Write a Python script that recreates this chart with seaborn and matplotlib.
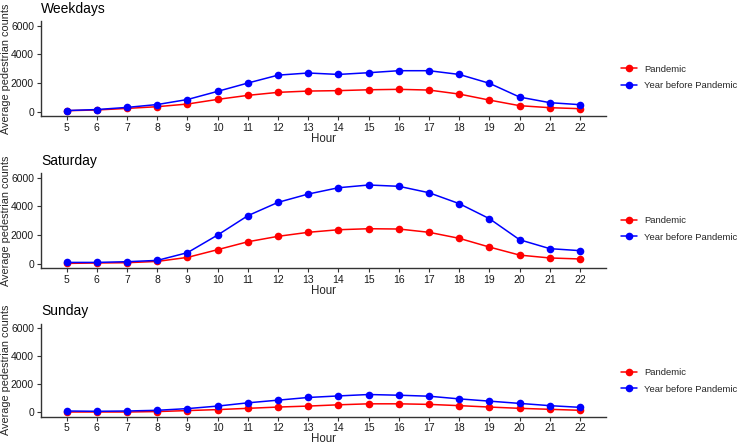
import matplotlib
matplotlib.use("Agg")
import matplotlib.pyplot as plt
import seaborn as sns
import pandas as pd
from matplotlib.lines import Line2D

hours = list(range(5, 23))
panels = ["Weekdays", "Saturday", "Sunday"]
series_names = ["Pandemic", "Year before Pandemic"]

weekdays_pandemic = [70, 120, 230, 350, 535, 860, 1140, 1350, 1440, 1470, 1530, 1560, 1510, 1230, 810, 420, 280, 210]
weekdays_before = [80, 150, 300, 500, 850, 1420, 2000, 2550, 2700, 2600, 2720, 2860, 2860, 2600, 1980, 1020, 630, 490]
saturday_pandemic = [20, 50, 70, 160, 440, 980, 1530, 1910, 2190, 2370, 2440, 2420, 2190, 1770, 1160, 600, 400, 330]
saturday_before = [90, 90, 140, 230, 770, 2000, 3350, 4280, 4860, 5300, 5490, 5400, 4950, 4190, 3140, 1670, 1050, 910]
sunday_pandemic = [20, 20, 20, 50, 120, 190, 280, 370, 440, 530, 600, 600, 560, 470, 370, 280, 210, 140]
sunday_before = [90, 70, 90, 140, 260, 440, 670, 860, 1050, 1160, 1260, 1210, 1140, 950, 790, 630, 470, 350]

y_ticks = [0, 2000, 4000, 6000]
colors = {"Pandemic": "#FF0000", "Year before Pandemic": "#0000FF"}

data = {
    "Weekdays": (weekdays_pandemic, weekdays_before),
    "Saturday": (saturday_pandemic, saturday_before),
    "Sunday": (sunday_pandemic, sunday_before),
}

sns.set_style("white")
plt.rcParams["font.family"] = ["Liberation Sans", "DejaVu Sans"]

W, H = 740, 445
fig = plt.figure(figsize=(7.4, 4.45), dpi=100)

# panel pixel boxes: (top, bottom)
boxes = [(21.4, 116.0), (173.4, 268.0), (323.5, 416.5)]
legend_centers = [77.5, 229.0, 381.0]
left_px, right_px = 41.0, 605.7

for name, (top, bot), lc in zip(panels, boxes, legend_centers):
    ax = fig.add_axes([left_px / W, 1 - bot / H, (right_px - left_px) / W, (bot - top) / H])
    pan, bef = data[name]
    df = pd.DataFrame({
        "Hour": hours * 2,
        "count": pan + bef,
        "group": [series_names[0]] * len(hours) + [series_names[1]] * len(hours),
    })
    sns.lineplot(data=df, x="Hour", y="count", hue="group", palette=colors,
                 hue_order=series_names, marker="o", markersize=5.5,
                 markeredgewidth=0, linewidth=1.1, ax=ax, legend=False)
    ax.set_xlim(4.15, 22.85)
    ax.set_ylim(-300, 6300)
    ax.set_xticks(hours)
    ax.set_xticklabels([str(h) for h in hours])
    ax.set_yticks(y_ticks)
    ax.set_yticklabels([str(v) for v in y_ticks])
    for s in ["top", "right"]:
        ax.spines[s].set_visible(False)
    for s in ["left", "bottom"]:
        ax.spines[s].set_color("#333333")
        ax.spines[s].set_linewidth(1.0)
    ax.tick_params(axis="both", which="both", direction="out", length=3, width=0.8,
                   color="#333333", labelsize=7.5, labelcolor="#1a1a1a", pad=2,
                   bottom=True, left=True)
    ax.set_title(name, loc="left", fontsize=10, pad=6, color="black")
    ax.set_xlabel("Hour", fontsize=8.3, labelpad=0)
    ax.set_ylabel("Average pedestrian counts", fontsize=7.8, labelpad=0)
    ax.grid(False)
    handles = [Line2D([0], [0], color=colors[s], marker="o", markersize=5.5,
                      markeredgewidth=0, linewidth=1.1) for s in series_names]
    ax.legend(handles, series_names, loc="center left",
              bbox_to_anchor=(617 / W, 1 - lc / H), bbox_transform=fig.transFigure,
              frameon=False, fontsize=6.8, handlelength=1.7, handletextpad=0.8,
              labelspacing=0.8, borderaxespad=0)

fig.savefig("out.png", dpi=100, facecolor="white")
